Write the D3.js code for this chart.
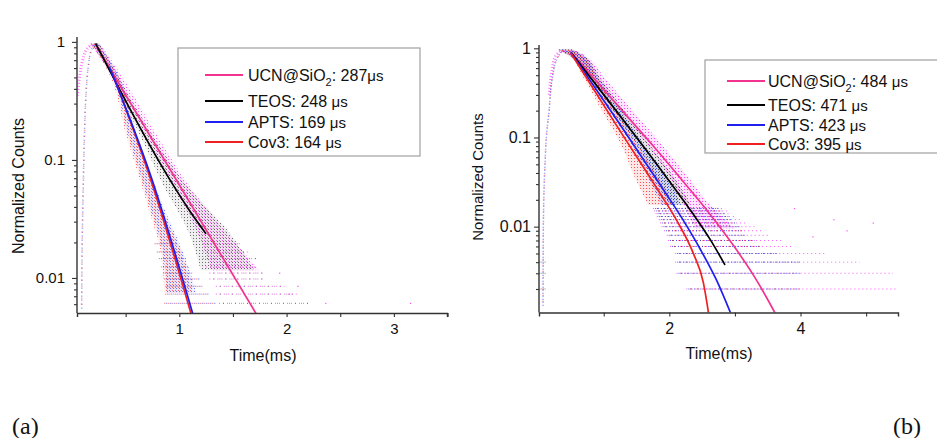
<!DOCTYPE html>
<html><head><meta charset="utf-8">
<script src="https://cdn.jsdelivr.net/npm/d3@7"></script>
<style>
body{margin:0;background:#fff}
svg{display:block}
text{font-family:"Liberation Sans",Arial,Helvetica,sans-serif;fill:#111}
</style>
</head><body>
<svg id="chart" width="937" height="438"></svg>
<script>
// ---- series ----
const seriesNames = ["UCN@SiO", "TEOS", "APTS", "Cov3"];
const lineColors = ["#f2338f", "#000000", "#1f1fef", "#ef2020"];
const dotColors  = ["#ff22ff", "#333333", "#3344ff", "#ff3333"];
const leftLifetimes  = [287, 248, 169, 164];   // µs
const rightLifetimes = [484, 471, 423, 395];   // µs

// ---- panel (a): fitted decay curves [time ms, normalized counts] ----
const leftFitUcn  = [[0.22, 0.95], [1.715, 0.005]];
const leftFitTeos = [[0.22, 0.97], [0.913, 0.0677], [1.093, 0.0375], [1.249, 0.0237]];
const leftFitApts = [[0.348, 0.614], [0.74, 0.0706], [1.125, 0.005]];
const leftFitCov3 = [[0.373, 0.557], [0.74, 0.0655], [1.109, 0.005]];

// ---- panel (b): fitted decay curves ----
const rightFitUcn  = [[0.5, 0.9], [1.2, 0.234], [1.808, 0.0724], [2.265, 0.0288], [2.62, 0.0138], [2.976, 0.00617], [3.28, 0.00288], [3.585, 0.00117], [3.65, 0.00095]];
const rightFitTeos = [[0.5, 0.9], [1.2, 0.195], [1.655, 0.0708], [2.01, 0.0316], [2.366, 0.0138], [2.62, 0.00724], [2.849, 0.00372]];
const rightFitApts = [[0.5, 0.9], [1.2, 0.158], [1.6, 0.0575], [1.86, 0.0295], [2.214, 0.01175], [2.47, 0.00562], [2.72, 0.00251], [2.94, 0.00105]];
const rightFitCov3 = [[0.5, 0.879], [1.2, 0.135], [1.858, 0.0237], [2.113, 0.01175], [2.366, 0.00501], [2.52, 0.00234], [2.6, 0.00105]];

// ---- measured points: spread of the decay cloud [counts, t from, t to] ----
const leftCloudUcn  = [[0.97, 0.16, 0.26], [0.575, 0.345, 0.43], [0.157, 0.7, 0.8], [0.059, 0.95, 1.1], [0.0254, 1.16, 1.42], [0.0116, 1.3, 1.75]];
const leftCloudTeos = [[0.97, 0.18, 0.26], [0.575, 0.34, 0.4], [0.157, 0.64, 0.76], [0.059, 0.86, 1.08], [0.0254, 1.08, 1.45], [0.0116, 1.2, 1.7]];
const leftCloudApts = [[0.97, 0.18, 0.25], [0.575, 0.345, 0.41], [0.157, 0.53, 0.61], [0.0426, 0.72, 0.84], [0.0161, 0.85, 1.04], [0.0075, 0.88, 1.16]];
const leftCloudCov3 = [[0.97, 0.18, 0.24], [0.575, 0.33, 0.4], [0.157, 0.51, 0.6], [0.0426, 0.7, 0.82], [0.0161, 0.83, 1.02], [0.0075, 0.86, 1.12]];

const rightCloudUcn  = [[0.97, 0.3, 0.55], [0.84, 0.47, 0.7], [0.46, 0.86, 1.02], [0.195, 1.26, 1.45], [0.0824, 1.67, 1.89], [0.0349, 2.02, 2.3], [0.0175, 2.22, 2.62], [0.0096, 2.4, 3.0]];
const rightCloudTeos = [[0.97, 0.3, 0.52], [0.84, 0.47, 0.68], [0.46, 0.8, 0.95], [0.195, 1.16, 1.32], [0.0824, 1.51, 1.7], [0.0349, 1.8, 2.08], [0.0175, 2.0, 2.33]];
const rightCloudApts = [[0.97, 0.3, 0.52], [0.84, 0.46, 0.67], [0.46, 0.76, 0.92], [0.195, 1.1, 1.27], [0.0824, 1.43, 1.62], [0.0349, 1.68, 1.98], [0.0175, 1.88, 2.18]];
const rightCloudCov3 = [[0.97, 0.3, 0.5], [0.84, 0.45, 0.66], [0.46, 0.7, 0.9], [0.195, 0.98, 1.2], [0.0824, 1.27, 1.52], [0.0349, 1.48, 1.84], [0.0175, 1.68, 2.05]];

// ---- rising edge of the measured points [t, counts] ----
const leftRiseUcn  = [[0.05, 0.35], [0.07, 0.5], [0.1, 0.7], [0.14, 0.87], [0.2, 0.97]];
const leftRiseRest = [[0.09, 0.0055], [0.095, 0.02], [0.105, 0.06], [0.115, 0.15], [0.13, 0.35], [0.15, 0.6], [0.18, 0.85], [0.22, 0.97]];
const rightRiseUcn  = [[0.17, 0.3], [0.2, 0.5], [0.26, 0.8], [0.36, 0.95]];
const rightRiseRest = [[0.075, 0.0013], [0.08, 0.01], [0.105, 0.05], [0.13, 0.11], [0.166, 0.195], [0.216, 0.46], [0.29, 0.77], [0.39, 0.97]];

// ---- single-count levels at low intensity (panel a) ----
const leftLevels    = [0.0061, 0.0073, 0.0085, 0.0098, 0.011, 0.0124, 0.0146, 0.0166, 0.0195];
const leftFastStart = [0.86, 0.87, 0.87, 0.86, 0.85, 0.83, 0.81, 0.79, 0.77];
const leftFastEnd   = [1.34, 1.28, 1.22, 1.19, 1.13, 1.09, 1.06, 1.02, 0.98];
const leftSlowStart = [1.37, 1.34, 1.34, 1.28, 1.28, 1.25, 1.22, 1.22, 1.22];
const leftSlowEnd   = [2.2, 2.1, 1.98, 1.78, 1.78, 1.72, 1.72, 1.65, 1.59];
const leftStrayDots = [[3.15, 0.0061], [2.36, 0.0061], [2.02, 0.0073], [1.93, 0.011], [2.1, 0.0085]];

// ---- single-count levels at low intensity (panel b) ----
const rightLevels     = [0.002, 0.003, 0.004, 0.005, 0.006, 0.007, 0.008, 0.009, 0.010, 0.011, 0.012, 0.013, 0.014, 0.015, 0.016];
const rightStart      = [2.26, 2.11, 2.09, 2.09, 2.01, 1.98, 1.96, 1.92, 1.88, 1.86, 1.84, 1.81, 1.79, 1.77, 1.75];
const rightDenseEnd   = [3.99, 3.99, 3.99, 3.64, 3.38, 3.3, 3.18, 3.12, 3.08, 3.0, 2.95, 2.9, 2.85, 2.8, 2.75];
const rightSparseEnd  = [5.47, 5.41, 4.9, 4.4, 3.9, 3.7, 3.5, 3.4, 3.3, 3.2, 3.1, 3.0, 2.95, 2.9, 2.85];
const rightBaseLevels = [0.002, 0.003, 0.004];
const rightStrayDots  = [[4.18, 0.0077], [4.5, 0.012], [3.9, 0.016], [4.7, 0.009], [5.1, 0.011]];

// ---- axes ----
const leftXTicks   = [0.5, 1, 1.5, 2, 2.5, 3, 3.5];
const leftXLabels  = [1, 2, 3];
const rightXTicks  = [1, 2, 3, 4, 5];
const rightXLabels = [2, 4];
const yMajorTicks  = [1, 0.1, 0.01];
const leftYMinor   = [0.006, 0.007, 0.008, 0.009, 0.02, 0.03, 0.04, 0.05, 0.06, 0.07, 0.08, 0.09, 0.2, 0.3, 0.4, 0.5, 0.6, 0.7, 0.8, 0.9];
const rightYMinor  = [0.002, 0.003, 0.004, 0.005, 0.006, 0.007, 0.008, 0.009, 0.02, 0.03, 0.04, 0.05, 0.06, 0.07, 0.08, 0.09, 0.2, 0.3, 0.4, 0.5, 0.6, 0.7, 0.8, 0.9];

const svg = d3.select("#chart");
const defs = svg.append("defs");

// sparse dot textures for the measured points
const dotOffsets = [[0, 0], [1, 1], [2, 0], [1, 2]];
dotColors.forEach((c, i) => {
  const p = defs.append("pattern").attr("id", "dots" + i)
    .attr("patternUnits", "userSpaceOnUse").attr("width", 3).attr("height", 3);
  p.append("rect").attr("x", dotOffsets[i][0]).attr("y", dotOffsets[i][1])
    .attr("width", 1).attr("height", 1).attr("fill", c);
});

function makePanel(cfg) {
  const x = d3.scaleLinear().domain(cfg.xDomain).range([cfg.left, cfg.right]);
  const y = d3.scaleLog().domain(cfg.yDomain).range([cfg.bottom, cfg.top]);
  const g = svg.append("g");
  const clipId = "clip" + cfg.id;
  defs.append("clipPath").attr("id", clipId).append("rect")
    .attr("x", cfg.left).attr("y", cfg.top - 6)
    .attr("width", cfg.right - cfg.left).attr("height", cfg.bottom - cfg.top + 6);
  const plot = g.append("g").attr("clip-path", `url(#${clipId})`);

  // measured point clouds
  const area = d3.area().y(d => y(d[0])).x0(d => x(d[1])).x1(d => x(d[2])).curve(d3.curveMonotoneY);
  cfg.clouds.forEach((cl, i) => {
    plot.append("path").attr("d", area(cl)).attr("fill", dotColors[i]).attr("opacity", cfg.haze);
    plot.append("path").attr("d", area(cl)).attr("fill", `url(#dots${i})`).attr("opacity", cfg.dots);
  });

  // rising edges
  const ln = d3.line().x(d => x(d[0])).y(d => y(d[1])).curve(d3.curveMonotoneY);
  cfg.rises.forEach(r => {
    plot.append("path").attr("d", ln(r.pts)).attr("fill", "none")
      .attr("stroke", dotColors[r.s]).attr("stroke-width", r.w || 1.5)
      .attr("stroke-dasharray", r.dash || "1 3").attr("stroke-dashoffset", r.off || 0)
      .attr("opacity", 0.6);
  });

  // single-count levels
  cfg.streaks.forEach(s => {
    plot.append("line")
      .attr("x1", x(s.t0)).attr("x2", x(s.t1))
      .attr("y1", y(s.v)).attr("y2", y(s.v))
      .attr("stroke", dotColors[s.s]).attr("stroke-width", 1)
      .attr("stroke-dasharray", s.dash).attr("stroke-dashoffset", s.off)
      .attr("opacity", s.op);
  });
  cfg.stray.forEach(d => {
    plot.append("rect").attr("x", x(d[0])).attr("y", y(d[1]) - 0.5)
      .attr("width", 1.2).attr("height", 1.2).attr("fill", dotColors[0]).attr("opacity", 0.8);
  });

  // fitted curves
  const fl = d3.line().x(d => x(d[0])).y(d => y(d[1])).curve(d3.curveMonotoneX);
  cfg.fits.forEach(f => {
    plot.append("path").attr("d", fl(f.pts)).attr("fill", "none")
      .attr("stroke", lineColors[f.s]).attr("stroke-width", 1.7);
  });

  // axes
  const axisStyle = sel => {
    sel.select(".domain").attr("stroke", "#333").attr("stroke-width", 1.4);
    sel.selectAll(".tick line").attr("stroke", "#333").attr("stroke-width", 1.1);
    sel.selectAll("text").attr("fill", "#111").style("font-family", '"Liberation Sans",Arial,sans-serif');
  };
  const xa = g.append("g").attr("transform", `translate(0,${cfg.bottom})`)
    .call(d3.axisBottom(x).tickValues(cfg.xTicks).tickSizeOuter(0).tickSize(4).tickPadding(6)
      .tickFormat(d => cfg.xLabels.includes(d) ? d3.format("d")(d) : ""));
  xa.call(axisStyle);
  xa.selectAll("text").style("font-size", cfg.xTickFont + "px");

  g.append("g").attr("transform", `translate(${cfg.left},0)`)
    .call(d3.axisLeft(y).tickValues(cfg.yMinor).tickSizeOuter(0).tickSize(3).tickFormat(""))
    .call(axisStyle).select(".domain").remove();
  const ya = g.append("g").attr("transform", `translate(${cfg.left},0)`)
    .call(d3.axisLeft(y).tickValues(yMajorTicks).tickSizeOuter(0).tickSize(5).tickPadding(cfg.yPad)
      .tickFormat(d => String(d)));
  ya.call(axisStyle);
  ya.select(".domain").attr("d", `M0,${cfg.top}V${cfg.bottom}`);
  ya.selectAll("text").style("font-size", cfg.yTickFont + "px");

  // titles
  g.append("text").attr("x", cfg.xTitle[0]).attr("y", cfg.xTitle[1])
    .attr("text-anchor", "middle").attr("dominant-baseline", "middle")
    .style("font-size", cfg.titleFont + "px").text("Time(ms)");
  g.append("text").attr("transform", `translate(${cfg.yTitle[0]},${cfg.yTitle[1]}) rotate(-90)`)
    .attr("text-anchor", "middle").attr("dominant-baseline", "middle")
    .style("font-size", cfg.yTitleFont + "px").text("Normalized Counts");

  // legend
  const L = cfg.legend;
  g.append("rect").attr("x", L.x).attr("y", L.y).attr("width", L.w).attr("height", L.h)
    .attr("fill", "#fff").attr("stroke", "#a0a0a0").attr("stroke-width", 1.2);
  seriesNames.forEach((name, i) => {
    const ry = L.rows[i];
    g.append("line").attr("x1", L.lx0).attr("x2", L.lx1).attr("y1", ry).attr("y2", ry)
      .attr("stroke", lineColors[i]).attr("stroke-width", 2);
    const t = g.append("text").attr("x", L.tx).attr("y", ry + 6).style("font-size", "16px");
    t.append("tspan").text(name);
    if (i === 0) {
      t.append("tspan").attr("dy", 5).style("font-size", "11px").text("2");
      t.append("tspan").attr("dy", -5).text(": " + cfg.lifetimes[i] + (cfg.tightUnit ? "" : " "));
    } else {
      t.append("tspan").text(": " + cfg.lifetimes[i] + " ");
    }
    t.append("tspan").style("font-size", "15px").text("\u03BCs");
  });
}

function streakList(levels, starts, ends, s, dash, off, op) {
  return levels.map((v, i) => ({ v, t0: starts[i], t1: ends[i], s, dash, off, op }));
}

// panel (a)
makePanel({
  id: "a",
  left: 77, right: 447, top: 37, bottom: 313,
  xDomain: [0.0466, 3.495], yDomain: [0.00505, 1.10],
  xTicks: leftXTicks, xLabels: leftXLabels, yMinor: leftYMinor,
  xTickFont: 15, yTickFont: 15, yPad: 7, titleFont: 16, yTitleFont: 16,
  xTitle: [263, 357], yTitle: [20, 186],
  lifetimes: leftLifetimes, tightUnit: true, haze: 0.08, dots: 0.7,
  clouds: [leftCloudUcn, leftCloudTeos, leftCloudApts, leftCloudCov3],
  rises: [{ s: 0, pts: leftRiseUcn, w: 3, dash: "1 2" }, { s: 2, pts: leftRiseRest, dash: "1 3" }, { s: 3, pts: leftRiseRest, dash: "1 5", off: 2 }],
  streaks: [].concat(
    streakList(leftLevels, leftFastStart, leftFastEnd, 3, "1 3", 0, 0.8),
    streakList(leftLevels, leftFastStart, leftFastEnd, 2, "1 3", 2, 0.8),
    streakList(leftLevels, leftSlowStart, leftSlowEnd, 0, "1 3", 0, 0.75),
    streakList(leftLevels, leftSlowStart, leftSlowEnd, 1, "1 5", 2, 0.5)
  ),
  stray: leftStrayDots,
  fits: [{ s: 0, pts: leftFitUcn }, { s: 1, pts: leftFitTeos }, { s: 3, pts: leftFitCov3 }, { s: 2, pts: leftFitApts }],
  legend: { x: 178, y: 48, w: 242, h: 108, rows: [75, 101, 122, 142], lx0: 205, lx1: 243, tx: 248 }
});

// panel (b)
makePanel({
  id: "b",
  left: 539, right: 898, top: 45, bottom: 312.5,
  xDomain: [0.0137, 5.486], yDomain: [0.00109, 1.089],
  xTicks: rightXTicks, xLabels: rightXLabels, yMinor: rightYMinor,
  xTickFont: 16, yTickFont: 16, yPad: 3, titleFont: 16, yTitleFont: 15,
  xTitle: [719, 355], yTitle: [479, 177],
  lifetimes: rightLifetimes, tightUnit: false, haze: 0.12, dots: 0.85,
  clouds: [rightCloudUcn, rightCloudTeos, rightCloudApts, rightCloudCov3],
  rises: [{ s: 0, pts: rightRiseUcn, w: 3, dash: "1 2" }, { s: 2, pts: rightRiseRest, dash: "1 2" }, { s: 3, pts: rightRiseRest, dash: "1 5", off: 2 }],
  streaks: [].concat(
    streakList(rightLevels, rightStart, rightSparseEnd, 0, "1 3", 0, 0.75),
    streakList(rightLevels, rightStart, rightDenseEnd, 2, "1 2", 1, 0.85),
    streakList(rightLevels, rightStart, rightDenseEnd, 3, "1 5", 2, 0.5),
    streakList(rightLevels, rightStart, rightDenseEnd, 1, "1 6", 3, 0.45),
    rightBaseLevels.map(v => ({ v, t0: 0.02, t1: 0.12, s: 1, dash: "1 1", off: 0, op: 0.6 }))
  ),
  stray: rightStrayDots,
  fits: [{ s: 0, pts: rightFitUcn }, { s: 1, pts: rightFitTeos }, { s: 2, pts: rightFitApts }, { s: 3, pts: rightFitCov3 }],
  legend: { x: 705, y: 60, w: 240, h: 93, rows: [81, 105, 125, 144], lx0: 727, lx1: 765, tx: 768 }
});

// panel letters
svg.append("text").attr("x", 12).attr("y", 434).style("font-family", '"Liberation Serif","Times New Roman",serif')
  .style("font-size", "24px").text("(a)");
svg.append("text").attr("x", 893).attr("y", 434).style("font-family", '"Liberation Serif","Times New Roman",serif')
  .style("font-size", "24px").text("(b)");
</script>
</body></html>
